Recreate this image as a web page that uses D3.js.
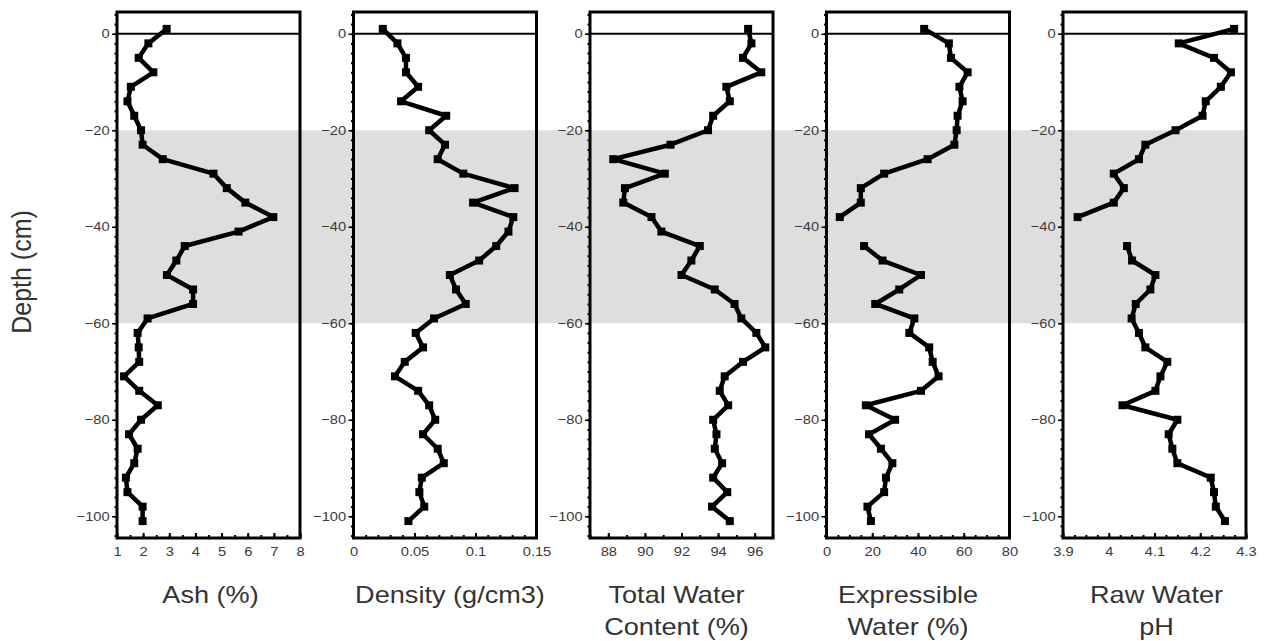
<!DOCTYPE html>
<html>
<head>
<meta charset="utf-8">
<script src="https://cdn.jsdelivr.net/npm/d3@7"></script>
<style>
body{margin:0;background:#fff;}
svg{display:block;font-family:"Liberation Sans",Arial,sans-serif;}
</style>
</head>
<body>
<svg id="grafico" width="1266" height="641"></svg>
<script>
// profundidade das amostras (cm)
var depth = [1,-2,-5,-8,-11,-14,-17,-20,-23,-26,-29,-32,-35,-38,-41,-44,-47,-50,
             -53,-56,-59,-62,-65,-68,-71,-74,-77,-80,-83,-86,-89,-92,-95,-98,-101];

var ash = [2.9,2.2,1.83,2.39,1.53,1.4,1.66,1.92,1.98,2.75,4.69,5.2,5.91,6.98,5.65,3.59,3.27,2.91,
           3.91,3.91,2.17,1.79,1.83,1.85,1.27,1.85,2.56,1.92,1.46,1.79,1.66,1.34,1.4,1.98,1.98];

var density = [0.024,0.036,0.043,0.043,0.053,0.039,0.076,0.062,0.075,0.069,0.09,0.132,0.098,0.131,0.127,0.117,0.103,0.079,
               0.084,0.092,0.066,0.051,0.057,0.042,0.034,0.053,0.062,0.067,0.057,0.069,0.074,0.056,0.054,0.058,0.045];

var totalWater = [95.64,95.82,95.36,96.36,94.45,94.64,93.73,93.45,91.4,88.27,91.09,88.91,88.82,90.36,90.9,93.0,92.54,92.0,
                  93.82,94.9,95.27,96.09,96.58,95.36,94.36,94.09,94.55,93.73,93.91,93.82,94.22,93.73,94.5,93.67,94.64];

// -41 cm sem medida
var expressible = [42.7,53.5,54.4,61.7,58.1,59.5,57.3,56.9,55.9,44.2,25.2,15.0,15.0,5.8,null,16.4,24.5,41.3,
                   31.8,21.3,38.4,36.2,44.9,46.4,49.0,41.3,17.2,30.0,18.6,23.8,28.8,26.0,25.2,17.9,19.4];

var rawPH = [4.274,4.153,4.23,4.267,4.245,4.212,4.205,4.146,4.08,4.066,4.011,4.033,4.011,3.932,null,4.04,4.051,4.102,
             4.091,4.059,4.05,4.066,4.08,4.128,4.113,4.102,4.03,4.15,4.131,4.139,4.15,4.223,4.23,4.234,4.254];

// ticks
var depthTicks = [0,-20,-40,-60,-80,-100];
var ashTicks = [1,2,3,4,5,6,7,8];
var densityTicks = [0,0.05,0.1,0.15];
var waterTicks = [88,90,92,94,96];
var exprTicks = [0,20,40,60,80];
var phTicks = [3.9,4,4.1,4.2,4.3];

// faixa cinza
var faixa = [-20,-60];

var paineis = [
  {valores: ash,         dominio: [1,8],      ticks: ashTicks,     menor: 0.5,   titulo: ["Ash (%)"],                    desloc: 2},
  {valores: density,     dominio: [0,0.15],   ticks: densityTicks, menor: 0.01,  titulo: ["Density (g/cm3)"],            desloc: 5},
  {valores: totalWater,  dominio: [87,97],    ticks: waterTicks,   menor: 1,     titulo: ["Total Water","Content (%)"],  desloc: -5},
  {valores: expressible, dominio: [0,80],     ticks: exprTicks,    menor: 5,     titulo: ["Expressible","Water (%)"],    desloc: -10},
  {valores: rawPH,       dominio: [3.9,4.3],  ticks: phTicks,      menor: 0.025, titulo: ["Raw Water","pH"],             desloc: 2}
];

var SX = 1.13; // a figura original esta esticada na horizontal
var topo = 12, base = 538, larg = 183, esq0 = 117, passo = 236.5;

var svg = d3.select("#grafico");
var y = d3.scaleLinear().domain([-104.5,4.5]).range([base,topo]);

// faixa cinza atras de tudo
var ultimoDir = esq0 + passo*(paineis.length-1) + larg;
svg.append("rect")
  .attr("x", esq0).attr("width", ultimoDir-esq0)
  .attr("y", y(faixa[0])).attr("height", y(faixa[1])-y(faixa[0]))
  .attr("fill", "#dedede");

// titulo do eixo y
svg.append("text")
  .attr("transform", "translate(31,272) scale("+SX+",1) rotate(-90)")
  .attr("text-anchor", "middle")
  .style("font-size", "25px")
  .attr("fill", "#333")
  .text("Depth (cm)");

paineis.forEach(function(p, i){
  var esq = esq0 + passo*i;
  var x = d3.scaleLinear().domain(p.dominio).range([esq, esq+larg]);
  var g = svg.append("g");

  // eixo y - menores
  var menoresY = d3.range(-104, 5, 2);
  g.append("g")
    .attr("transform", "translate("+esq+",0)")
    .call(d3.axisLeft(y).tickValues(menoresY).tickSize(2.5).tickFormat(""))
    .call(function(a){ a.select(".domain").remove(); a.selectAll("line").attr("stroke-width",2); });

  // eixo y - principais
  g.append("g")
    .attr("transform", "translate("+esq+",0)")
    .call(d3.axisLeft(y).tickValues(depthTicks).tickSize(5).tickPadding(1.5).tickFormat(d3.format("d")))
    .call(function(a){
      a.select(".domain").remove();
      a.selectAll("line").attr("stroke-width",1.5);
      a.selectAll("text")
        .attr("transform","scale("+SX+",1)")
        .style("font-size","13px")
        .attr("fill","#3a3a3a");
    });

  // eixo x - menores (para dentro)
  var n = Math.round((p.dominio[1]-p.dominio[0])/p.menor);
  var menoresX = d3.range(0, n+1).map(function(k){ return p.dominio[0] + k*p.menor; });
  g.append("g")
    .attr("transform", "translate(0,"+base+")")
    .call(d3.axisBottom(x).tickValues(menoresX).tickSize(-3).tickFormat(""))
    .call(function(a){ a.select(".domain").remove(); a.selectAll("line").attr("stroke-width",2); });

  // eixo x - principais
  g.append("g")
    .attr("transform", "translate(0,"+base+")")
    .call(d3.axisBottom(x).tickValues(p.ticks).tickSize(-5).tickPadding(9).tickFormat(function(v){ return String(v); }))
    .call(function(a){
      a.select(".domain").remove();
      a.selectAll("line").attr("stroke-width",2);
      a.selectAll("text")
        .attr("transform","scale("+SX+",1)")
        .style("font-size","13px")
        .attr("fill","#3a3a3a");
    });

  // moldura
  g.append("rect")
    .attr("x", esq).attr("y", topo)
    .attr("width", larg).attr("height", base-topo)
    .attr("fill", "none").attr("stroke", "#000").attr("stroke-width", 3);

  // linha do zero
  g.append("line")
    .attr("x1", esq).attr("x2", esq+larg)
    .attr("y1", y(0)).attr("y2", y(0))
    .attr("stroke", "#000").attr("stroke-width", 2);

  var dados = depth.map(function(d, k){ return {prof: d, v: p.valores[k]}; });

  var linha = d3.line()
    .defined(function(d){ return d.v != null; })
    .x(function(d){ return x(d.v); })
    .y(function(d){ return y(d.prof); });

  g.append("path")
    .datum(dados)
    .attr("d", linha)
    .attr("fill", "none")
    .attr("stroke", "#000")
    .attr("stroke-width", 4.5)
    .attr("stroke-linejoin", "round");

  g.selectAll(".ponto")
    .data(dados.filter(function(d){ return d.v != null; }))
    .enter().append("rect")
    .attr("class", "ponto")
    .attr("x", function(d){ return x(d.v)-4; })
    .attr("y", function(d){ return y(d.prof)-4; })
    .attr("width", 8).attr("height", 8)
    .attr("fill", "#000");

  // titulo do painel
  var cx = esq + larg/2 + p.desloc;
  p.titulo.forEach(function(t, k){
    svg.append("text")
      .attr("transform", "translate("+cx+","+(603+k*32)+") scale("+SX+",1)")
      .attr("text-anchor", "middle")
      .style("font-size", "24px")
      .attr("fill", "#333")
      .text(t);
  });
});
</script>
</body>
</html>
